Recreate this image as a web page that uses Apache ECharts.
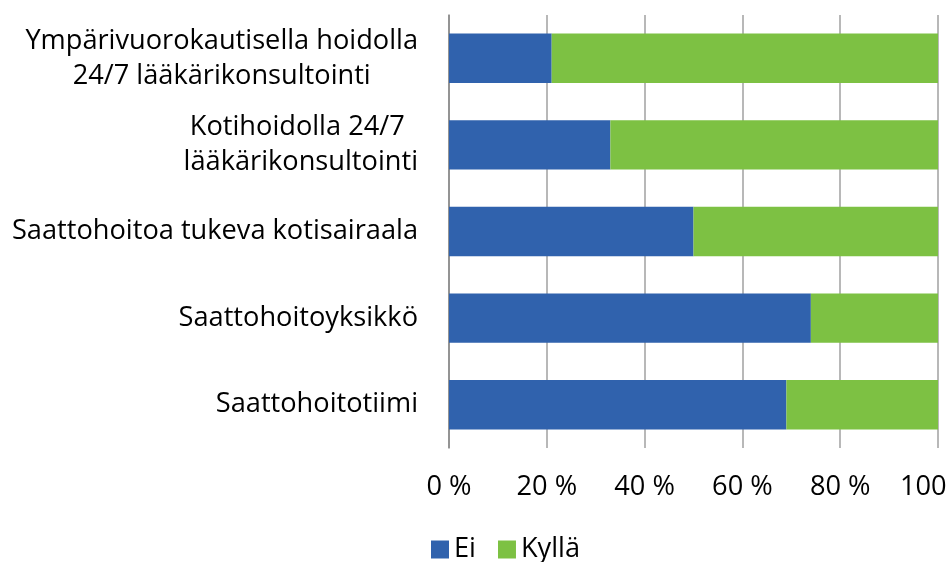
<!DOCTYPE html>
<html lang="fi">
<head>
    <meta charset="utf-8">
    <title>Saattohoito</title>
    <script src="https://cdn.jsdelivr.net/npm/echarts@6/dist/echarts.min.js"></script>
    <style type="text/css">
        html, body {
            margin: 0;
            padding: 0;
            background: #ffffff;
        }

        #main {
            width: 951px;
            height: 562px;
        }
    </style>
</head>
<body>
<div id="main"></div>
<script type="text/javascript">
    // kategoriat ylhäältä alas
    let categories = [
        "Ympärivuorokautisella hoidolla\n24/7 lääkärikonsultointi",
        "Kotihoidolla 24/7 \nlääkärikonsultointi",
        "Saattohoitoa tukeva kotisairaala",
        "Saattohoitoyksikkö",
        "Saattohoitotiimi"
    ];
    let eiValues = [21, 33, 50, 74, 69];
    let kyllaValues = [79, 67, 50, 26, 31];
    let xTicks = [0, 20, 40, 60, 80, 100];

    let fontFamily = "Open Sans";
    let fontSize = 27.2;

    let myChart = echarts.init(document.getElementById("main"));
    myChart.setOption({
        animation: false,
        textStyle: {fontFamily: fontFamily},
        grid: {left: 449, right: 13, top: 15, bottom: 114, outerBoundsMode: "none", containLabel: false},
        legend: {
            data: ["Ei", "Kyllä"],
            left: 426,
            bottom: -6,
            itemWidth: 18,
            itemHeight: 18,
            itemGap: 22,
            icon: "rect",
            textStyle: {fontSize: fontSize, color: "#000", fontFamily: fontFamily}
        },
        xAxis: {
            type: "value",
            min: xTicks[0],
            max: xTicks[xTicks.length - 1],
            interval: 20,
            axisLine: {show: false},
            axisTick: {show: false},
            splitLine: {lineStyle: {color: "#a0a0a0", width: 1.5}},
            axisLabel: {
                margin: 26,
                fontSize: fontSize,
                color: "#000",
                formatter: function (v) {
                    return v + " %";
                }
            }
        },
        yAxis: {
            type: "category",
            inverse: true,
            data: categories,
            axisLine: {lineStyle: {color: "#888888", width: 1.5}},
            axisTick: {show: false},
            axisLabel: {
                margin: 31,
                fontSize: fontSize,
                color: "#000",
                lineHeight: 35,
                formatter: function (v) {
                    return v.split("\n").map(function (l) {
                        return "{c|" + l + "}";
                    }).join("\n");
                },
                rich: {
                    c: {align: "center", fontSize: fontSize, lineHeight: 35, fontFamily: fontFamily}
                }
            }
        },
        series: [
            {
                name: "Ei",
                type: "bar",
                stack: "total",
                barCategoryGap: "43%",
                itemStyle: {color: "#3062ad"},
                data: eiValues
            },
            {
                name: "Kyllä",
                type: "bar",
                stack: "total",
                barCategoryGap: "43%",
                itemStyle: {color: "#7dc143"},
                data: kyllaValues
            }
        ]
    });
</script>
</body>
</html>
